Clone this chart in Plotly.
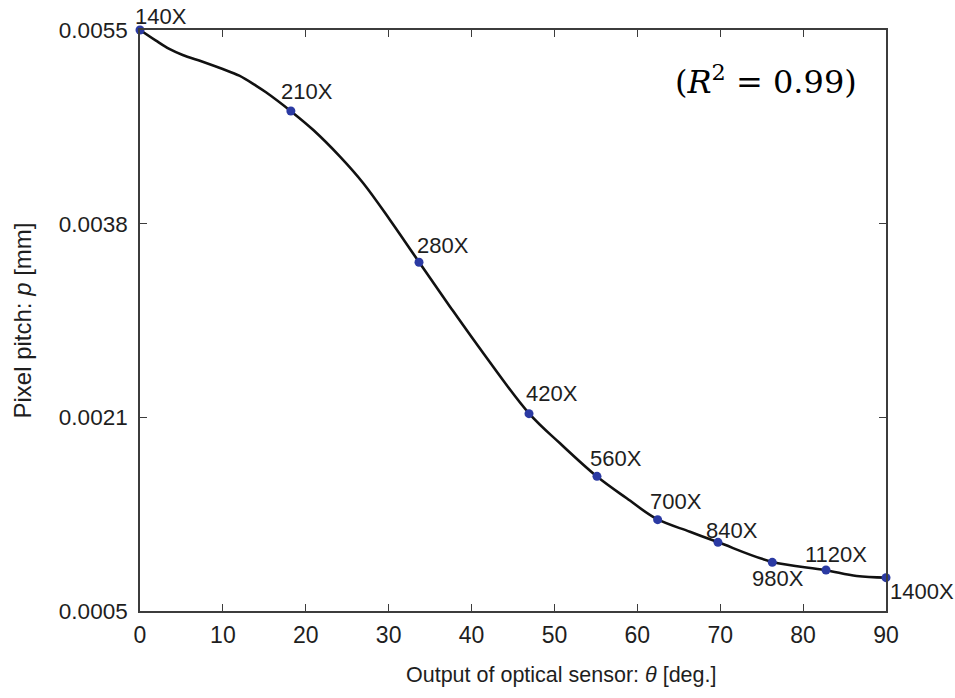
import numpy as np
import plotly.graph_objects as go

# Measured points: sensor output angle vs. pixel pitch at each magnification
theta_deg = [0, 18.2, 33.66, 46.93, 55.13, 62.45, 69.73, 76.28, 82.76, 90]
pixel_pitch_mm = [0.0055, 0.004803, 0.003501, 0.002198, 0.001659,
                  0.001286, 0.001091, 0.000919, 0.000853, 0.000787]
magnification = ["140X", "210X", "280X", "420X", "560X",
                 "700X", "840X", "980X", "1120X", "1400X"]

# Fitted curve samples
fit_theta = [0, 1.93, 3.53, 5.15, 7.56, 9.98, 11.98, 13.99, 15.2, 18.28,
             20.91, 24.13, 26.94, 30.16, 33.70, 37.40, 41.42, 46.93, 50.67,
             55.17, 58.72, 62.34, 66.35, 69.77, 76.21, 82.64, 86.46, 90]
fit_pitch = [0.0055, 0.005408, 0.005337, 0.005285, 0.005227, 0.005164,
             0.005107, 0.005021, 0.004964, 0.004797, 0.004639, 0.00441,
             0.004181, 0.003865, 0.003499, 0.003119, 0.002718, 0.002201,
             0.001943, 0.001655, 0.00147, 0.001292, 0.001182, 0.001091,
             0.000924, 0.000853, 0.000801, 0.000787]

r_squared = 0.99

x_ticks = [0, 10, 20, 30, 40, 50, 60, 70, 80, 90]
y_tick_text = ["0.0005", "0.0021", "0.0038", "0.0055"]
y_min, y_max = 0.0005, 0.0055

# label offsets in pixels (dx right, dy up) relative to each marker
label_offsets = [(21, 13.5), (16.5, 19.5), (24, 17), (23, 20.5), (19.5, 17.5),
                 (18.5, 18.5), (14.5, 12), (5.5, -16.5), (10.5, 15), (35.5, -13.5)]

FONT = "Liberation Sans, Arial, sans-serif"
TEXT_COLOR = "#1e1e1e"
AXIS_COLOR = "#3c3c3c"

fig = go.Figure()

fig.add_trace(go.Scatter(
    x=fit_theta, y=fit_pitch, mode="lines",
    line=dict(color="#111111", width=2.6, shape="spline", smoothing=1.0),
    hoverinfo="skip", cliponaxis=False, showlegend=False,
))

fig.add_trace(go.Scatter(
    x=theta_deg, y=pixel_pitch_mm, mode="markers",
    marker=dict(color="#2b3aa3", size=9),
    cliponaxis=False, showlegend=False,
))

for xv, yv, lab, (dx, dy) in zip(theta_deg, pixel_pitch_mm, magnification, label_offsets):
    fig.add_annotation(
        x=xv, y=yv, text=lab, showarrow=False,
        xanchor="center", yanchor="middle",
        xshift=dx, yshift=dy,
        font=dict(family=FONT, size=22, color=TEXT_COLOR),
    )

fig.add_annotation(
    xref="paper", yref="paper", x=0.839, y=0.914,
    text=f"(<i>R</i><sup>2</sup> = {r_squared:.2f})", showarrow=False,
    xanchor="center", yanchor="middle",
    font=dict(family="DejaVu Serif, serif", size=32, color="#000000"),
)

# x-axis title placed as paper annotation below the tick labels
fig.add_annotation(
    xref="paper", yref="paper", x=0.5643, y=-0.1102,
    text="Output of optical sensor: <i>θ</i> [deg.]", showarrow=False,
    xanchor="center", yanchor="middle",
    font=dict(family=FONT, size=21.5, color=TEXT_COLOR),
)

fig.update_xaxes(
    range=[0, 90], tickvals=x_ticks,
    ticks="inside", ticklen=7, tickwidth=1.3, tickcolor=AXIS_COLOR,
    showline=True, linecolor=AXIS_COLOR, linewidth=1.6, mirror="ticks",
    showgrid=False, zeroline=False, ticklabelstandoff=3,
    tickfont=dict(family=FONT, size=23, color=TEXT_COLOR),
)

fig.update_yaxes(
    range=[y_min, y_max],
    tickvals=list(np.linspace(y_min, y_max, len(y_tick_text))),
    ticktext=y_tick_text,
    ticks="inside", ticklen=7, tickwidth=1.3, tickcolor=AXIS_COLOR,
    showline=True, linecolor=AXIS_COLOR, linewidth=1.6, mirror="ticks",
    showgrid=False, zeroline=False, ticklabelstandoff=6,
    tickfont=dict(family=FONT, size=22.5, color=TEXT_COLOR),
    title=dict(text="Pixel pitch: <i>p</i> [mm]", standoff=20,
               font=dict(family=FONT, size=24, color=TEXT_COLOR)),
)

fig.update_layout(
    width=955, height=698,
    margin=dict(l=140, r=69, t=30, b=87, autoexpand=False),
    paper_bgcolor="white", plot_bgcolor="white",
)

fig.write_html("out.html")
